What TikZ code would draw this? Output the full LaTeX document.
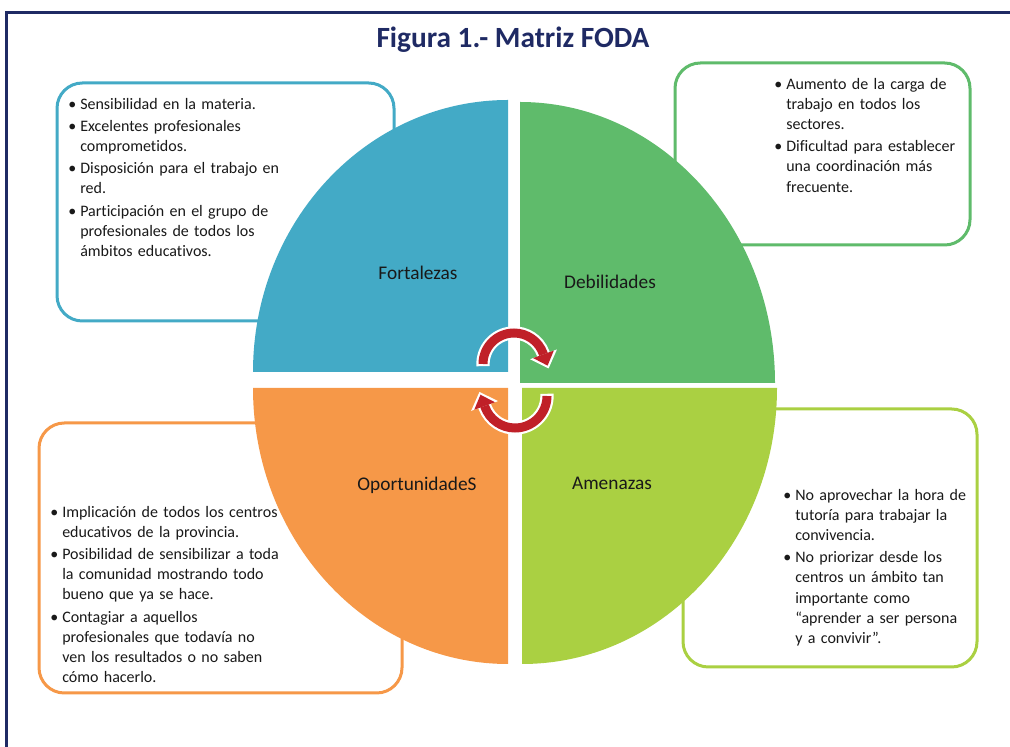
\documentclass[tikz,border=0pt]{standalone}
\usepackage{fontspec}
\setmainfont{Carlito}[Ligatures=NoCommon]
\usepackage{enumitem}
\setlist[itemize]{nosep, itemsep=1.5pt, leftmargin=7.5pt, labelsep=3pt, label=\textbullet}
\usetikzlibrary{arrows.meta}

\definecolor{marino}{RGB}{31,42,100}
\definecolor{texto}{RGB}{25,25,25}
\definecolor{fodaazul}{RGB}{67,170,198}
\definecolor{fodaverde}{RGB}{95,187,107}
\definecolor{fodalima}{RGB}{170,208,66}
\definecolor{fodanaranja}{RGB}{246,152,72}
\definecolor{fodarojo}{RGB}{192,32,40}

\tikzset{
  caja/.style={rounded corners=19pt, line width=2.25pt, fill=white},
  lista/.style={anchor=north west, inner sep=0pt, text width=220pt, align=left,
    text=texto, font=\fontsize{12}{15.1}\selectfont},
  etiqueta/.style={text=texto, font=\fontsize{14.5}{17}\selectfont},
  giro/.style={line width=6.75pt, fodarojo, -{Triangle[length=9pt, width=16.5pt, line width=0pt]}},
  girofondo/.style={line width=10pt, white, -{Triangle[length=11.25pt, width=21.5pt, line width=0pt]}},
}

\begin{document}
\begin{tikzpicture}[x=0.75pt, y=0.75pt]
    \useasboundingbox (0,0) rectangle (1010,746);
    \draw[marino, line width=2.25pt] (6,733) rectangle (1030,-20);

    \node[font=\bfseries\fontsize{22}{26}\selectfont, text=marino] (titulo) at (513,706) {Figura 1.- Matriz FODA};

    \draw[caja, draw=fodaazul] (57,663) rectangle (394,425);
    \draw[caja, draw=fodaverde] (675,683) rectangle (970,501);
    \draw[caja, draw=fodanaranja] (39,323) rectangle (402,53);
    \draw[caja, draw=fodalima] (683,337) rectangle (977,79);

    \fill[fodaazul] (508,374) -- (253,374) arc[start angle=180, end angle=90, x radius=255, y radius=272] -- cycle;
    \fill[fodaverde] (520,363) -- (775,363) arc[start angle=0, end angle=90, x radius=255, y radius=281] -- cycle;
    \fill[fodanaranja] (508,358) -- (253,358) arc[start angle=180, end angle=270, x radius=255, y radius=276] -- cycle;
    \fill[fodalima] (522,358) -- (777,358) arc[start angle=0, end angle=-90, x radius=255, y radius=276] -- cycle;

    \node[lista] (fortalezas) at (70,657) {\begin{itemize}
      \item Sensibilidad en la materia.
      \item Excelentes profesionales\\ comprometidos.
      \item Disposición para el trabajo en\\ red.
      \item Participación en el grupo de\\ profesionales de todos los\\ ámbitos educativos.
    \end{itemize}};
    \node[lista] (debilidades) at (776,677) {\begin{itemize}
      \item Aumento de la carga de\\ trabajo en todos los\\ sectores.
      \item Dificultad para establecer\\ una coordinación más\\ frecuente.
    \end{itemize}};
    \node[lista] (oportunidades) at (52,249) {\begin{itemize}
      \item Implicación de todos los centros\\ educativos de la provincia.
      \item Posibilidad de sensibilizar a toda\\ la comunidad mostrando todo\\ bueno que ya se hace.
      \item Contagiar a aquellos\\ profesionales que todavía no\\ ven los resultados o no saben\\ cómo hacerlo.
    \end{itemize}};
    \node[lista] (amenazas) at (785,266) {\begin{itemize}
      \item No aprovechar la hora de\\ tutoría para trabajar la\\ convivencia.
      \item No priorizar desde los\\ centros un ámbito tan\\ importante como\\ “aprender a ser persona\\ y a convivir”.
    \end{itemize}};

    \node[etiqueta] (F) at (418,473) {Fortalezas};
    \node[etiqueta] (D) at (610,464) {Debilidades};
    \node[etiqueta] (O) at (417,261) {OportunidadeS};
    \node[etiqueta] (A) at (612,263) {Amenazas};

    \coordinate (ejeA) at (514,382);
    \coordinate (ejeB) at (515,350);
    \draw[girofondo] ([shift={(184:31)}]ejeA) arc[start angle=184, end angle=20, radius=31] -- ++(-70:16);
    \draw[giro] ([shift={(180:31)}]ejeA) arc[start angle=180, end angle=20, radius=31] -- ++(-70:13);
    \draw[girofondo] ([shift={(4:32)}]ejeB) arc[start angle=4, end angle=-160, radius=32] -- ++(110:16);
    \draw[giro] ([shift={(0:32)}]ejeB) arc[start angle=0, end angle=-160, radius=32] -- ++(110:13);
\end{tikzpicture}
\end{document}
